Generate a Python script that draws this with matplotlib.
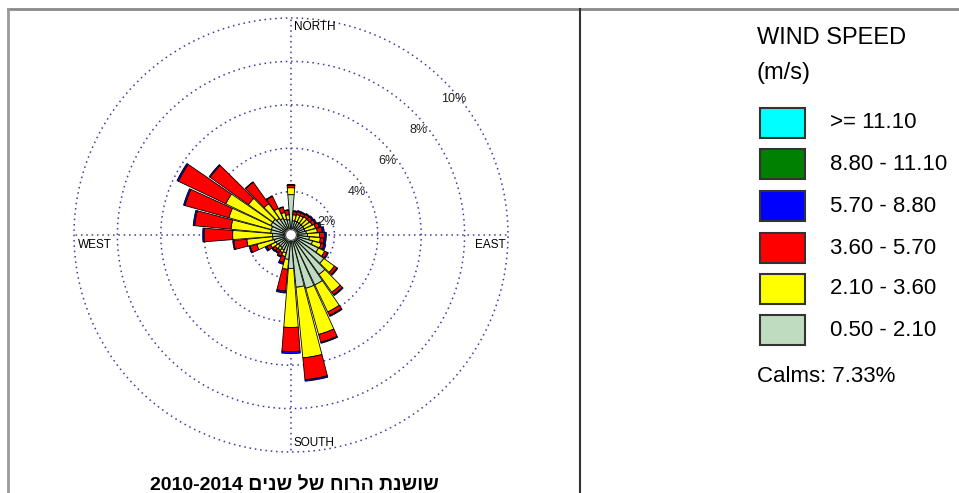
import numpy as np
import matplotlib.pyplot as plt
from matplotlib.patches import Rectangle
from matplotlib.lines import Line2D

plt.rcParams['font.family'] = ['Liberation Sans', 'DejaVu Sans']

# wind directions (degrees, clockwise from north)
directions = np.arange(0, 360, 10)

# frequency (%) per direction for each speed class (m/s)
spd_050_210 = [1.61, 0.41, 0.41, 0.41, 0.41, 0.41, 0.41, 0.41, 0.46, 0.51, 0.60, 0.78,
               1.15, 1.61, 1.98, 2.30, 2.30, 2.17, 1.29, 0.88, 0.60, 0.51, 0.46, 0.46,
               0.51, 0.55, 0.60, 0.60, 0.69, 0.69, 0.78, 0.78, 0.69, 0.60, 0.51, 0.46]
spd_210_360 = [0.32, 0.28, 0.32, 0.32, 0.37, 0.37, 0.41, 0.51, 0.51, 0.55, 0.51, 0.41,
               0.32, 0.60, 1.01, 1.38, 2.21, 3.27, 2.72, 0.46, 0.18, 0.14, 0.14, 0.18,
               0.28, 0.83, 1.20, 1.84, 1.84, 2.03, 2.30, 1.38, 0.83, 0.51, 0.32, 0.23]
spd_360_570 = [0.12, 0.14, 0.14, 0.14, 0.14, 0.16, 0.16, 0.18, 0.23, 0.23, 0.18, 0.14,
               0.14, 0.14, 0.14, 0.18, 0.37, 1.01, 1.11, 1.01, 0.28, 0.18, 0.14, 0.14,
               0.18, 0.32, 0.60, 1.31, 1.68, 2.10, 2.42, 2.17, 1.22, 0.62, 0.25, 0.21]
spd_570_880 = [0.02, 0.05, 0.05, 0.05, 0.05, 0.07, 0.07, 0.09, 0.09, 0.09, 0.09, 0.09,
               0.05, 0.05, 0.05, 0.05, 0.05, 0.07, 0.09, 0.09, 0.09, 0.05, 0.05, 0.05,
               0.09, 0.05, 0.05, 0.07, 0.07, 0.07, 0.07, 0.05, 0.02, 0.02, 0.02, 0.02]
spd_880_1110 = [0.0] * 36
spd_1110_up = [0.0] * 36

calms = 7.33
rings = [2, 4, 6, 8, 10]
ring_label_theta = [69.6, 56.5, 52.5, 50.6, 50.1]
ring_label_r = [1.72, 3.63, 5.60, 7.63, 9.80]

classes = [
    ("0.50 - 2.10", "#c0dcc0", spd_050_210),
    ("2.10 - 3.60", "#ffff00", spd_210_360),
    ("3.60 - 5.70", "#ff0000", spd_360_570),
    ("5.70 - 8.80", "#0000ff", spd_570_880),
    ("8.80 - 11.10", "#008000", spd_880_1110),
    (">= 11.10", "#00ffff", spd_1110_up),
]

W, H = 959, 493
def fx(px):
    return px / W
def fy(py):
    return 1 - py / H

fig = plt.figure(figsize=(W / 100, H / 100), dpi=100)

cx, cy, R = 291, 235, 217
ax = fig.add_axes([fx(cx - R), fy(cy + R), 2 * R / W, 2 * R / H], projection='polar')
ax.set_theta_zero_location('N')
ax.set_theta_direction(-1)
ax.set_ylim(0, 10)
ax.grid(False)
ax.set_xticks([])
ax.set_yticks([])
ax.spines['polar'].set_visible(False)
ax.patch.set_alpha(0)

grid_col = '#3a3aa8'
dots = (0, (1, 2.5))
tt = np.linspace(0, 2 * np.pi, 400)
for rv in rings:
    ax.plot(tt, [rv] * len(tt), color=grid_col, lw=1.1, ls=dots, zorder=1, clip_on=False)
for a in [0, 90, 180, 270]:
    ax.plot([np.radians(a)] * 2, [0, 10], color=grid_col, lw=1.1, ls=dots, zorder=1, clip_on=False)

hole = 0.25
theta = np.radians(directions)
bottom = np.full(36, hole)
for name, col, vals in classes:
    vals = np.array(vals)
    m = vals > 0
    if m.any():
        ax.bar(theta[m], vals[m], width=np.radians(9), bottom=bottom[m], color=col,
               edgecolor='black', linewidth=0.6, zorder=3)
    bottom = bottom + vals

ax.fill(tt, [hole] * len(tt), color='white', zorder=4)
ax.plot(tt, [hole] * len(tt), color='#444444', lw=0.8, zorder=4)

for t, r, rv in zip(ring_label_theta, ring_label_r, rings):
    ax.text(np.radians(t), r, f"{rv}%", fontsize=9, ha='center', va='center',
            color='#222222', zorder=5)

fig.text(fx(294), fy(27), "NORTH", fontsize=8.5, ha='left', va='center')
fig.text(fx(294), fy(443), "SOUTH", fontsize=8.5, ha='left', va='center')
fig.text(fx(78), fy(245), "WEST", fontsize=8.5, ha='left', va='center')
fig.text(fx(506), fy(245), "EAST", fontsize=8.5, ha='right', va='center')

# frame lines
fig.add_artist(Line2D([fx(8), 1], [fy(9), fy(9)], color='#8a8a8a', lw=2))
fig.add_artist(Line2D([fx(8), fx(8)], [fy(9), 0], color='#9a9a9a', lw=2))
fig.add_artist(Line2D([fx(580), fx(580)], [fy(9), 0], color='#333333', lw=1.5))

# legend
fig.text(fx(757), fy(38), "WIND SPEED", fontsize=17, ha='left', va='center')
fig.text(fx(757), fy(73), "(m/s)", fontsize=17, ha='left', va='center')
box_tops = [108, 149, 191, 233, 274, 315]
for top, (name, col, vals) in zip(box_tops, classes[::-1]):
    fig.add_artist(Rectangle((fx(760), fy(top + 30)), 45 / W, 30 / H, transform=fig.transFigure,
                             facecolor=col, edgecolor='#333333', lw=1.5))
    fig.text(fx(830), fy(top + 15), name, fontsize=16, ha='left', va='center')
fig.text(fx(757), fy(376), f"Calms: {calms:.2f}%", fontsize=16, ha='left', va='center')

title_he = "שושנת הרוח של שנים"
fig.text(fx(294), fy(485), "2010-2014 " + title_he[::-1], fontsize=14, fontweight='bold',
         ha='center', va='center')

fig.savefig('out.png', dpi=100)
